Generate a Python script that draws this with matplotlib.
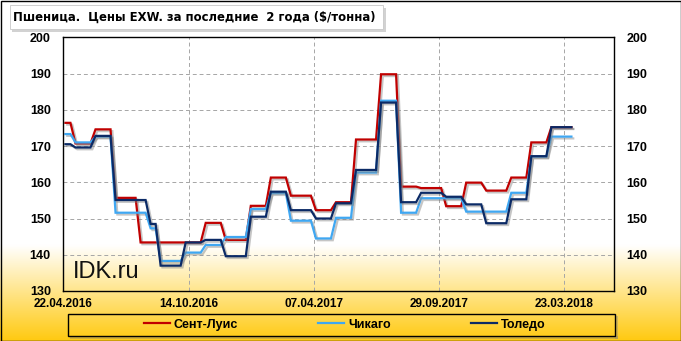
import datetime as dt
import numpy as np
import pandas as pd
import matplotlib
matplotlib.use("Agg")
import matplotlib.pyplot as plt
import matplotlib.dates as mdates
import matplotlib.patheffects as pe
from matplotlib.patches import Rectangle
from matplotlib.lines import Line2D

plt.rcParams['font.family'] = ['Liberation Sans', 'DejaVu Sans']

# ---------------- data ----------------
title = "Пшеница.  Цены EXW. за последние  2 года ($/тонна)"
series_names = ["Сент-Луис", "Чикаго", "Толедо"]
series_colors = ["#C00000", "#3FA7F2", "#0B2A66"]
start_date = "2016-04-25"
tick_dates = ["2016-04-22", "2016-10-14", "2017-04-07", "2017-09-29", "2018-03-23"]
tick_labels = ["22.04.2016", "14.10.2016", "07.04.2017", "29.09.2017", "23.03.2018"]
y_ticks = [130, 140, 150, 160, 170, 180, 190, 200]

st_louis = [
    176.4, 176.4, 170.7, 170.7, 170.7, 170.7, 174.6, 174.6, 174.6, 174.6,
    155.7, 155.7, 155.7, 155.7, 155.7, 143.4, 143.4, 143.4, 143.4, 143.4,
    143.4, 143.4, 143.4, 143.4, 143.4, 143.4, 143.4, 143.4, 148.8, 148.8,
    148.8, 148.8, 144.1, 144.1, 144.1, 144.1, 144.1, 153.5, 153.5, 153.5,
    153.5, 161.3, 161.3, 161.3, 161.3, 156.3, 156.3, 156.3, 156.3, 156.3,
    152.3, 152.3, 152.3, 152.3, 154.5, 154.5, 154.5, 154.5, 171.8, 171.8,
    171.8, 171.8, 171.8, 189.8, 189.8, 189.8, 189.8, 158.8, 158.8, 158.8,
    158.8, 158.4, 158.4, 158.4, 158.4, 158.4, 153.4, 153.4, 153.4, 153.4,
    159.9, 159.9, 159.9, 159.9, 157.7, 157.7, 157.7, 157.7, 157.7, 161.3,
    161.3, 161.3, 161.3, 171.0, 171.0, 171.0, 171.0, 175.2, 175.2, 175.2,
    175.2, 175.2]

chicago = [
    173.3, 173.3, 171.0, 171.0, 171.0, 171.0, 172.6, 172.6, 172.6, 172.6,
    151.6, 151.6, 151.6, 151.6, 151.6, 151.6, 151.6, 147.3, 147.3, 138.3,
    138.3, 138.3, 138.3, 138.3, 140.6, 140.6, 140.6, 140.6, 142.7, 142.7,
    142.7, 142.7, 144.9, 144.9, 144.9, 144.9, 144.9, 152.6, 152.6, 152.6,
    152.6, 157.0, 157.0, 157.0, 157.0, 149.4, 149.4, 149.4, 149.4, 149.4,
    144.5, 144.5, 144.5, 144.5, 150.2, 150.2, 150.2, 150.2, 162.7, 162.7,
    162.7, 162.7, 162.7, 182.5, 182.5, 182.5, 182.5, 151.6, 151.6, 151.6,
    151.6, 155.6, 155.6, 155.6, 155.6, 155.6, 155.6, 155.6, 155.6, 155.6,
    151.9, 151.9, 151.9, 151.9, 151.9, 151.9, 151.9, 151.9, 151.9, 157.1,
    157.1, 157.1, 157.1, 167.1, 167.1, 167.1, 167.1, 172.6, 172.6, 172.6,
    172.6, 172.6]

toledo = [
    170.5, 170.5, 169.6, 169.6, 169.6, 169.6, 172.8, 172.8, 172.8, 172.8,
    155.1, 155.1, 155.1, 155.1, 155.1, 155.1, 155.1, 148.5, 148.5, 137.0,
    137.0, 137.0, 137.0, 137.0, 143.4, 143.4, 143.4, 143.4, 144.1, 144.1,
    144.1, 144.1, 139.6, 139.6, 139.6, 139.6, 139.6, 150.5, 150.5, 150.5,
    150.5, 157.4, 157.4, 157.4, 157.4, 152.3, 152.3, 152.3, 152.3, 152.3,
    150.0, 150.0, 150.0, 150.0, 154.2, 154.2, 154.2, 154.2, 163.4, 163.4,
    163.4, 163.4, 163.4, 182.0, 182.0, 182.0, 182.0, 154.5, 154.5, 154.5,
    154.5, 157.1, 157.1, 157.1, 157.1, 157.1, 156.0, 156.0, 156.0, 156.0,
    153.9, 153.9, 153.9, 153.9, 148.7, 148.7, 148.7, 148.7, 148.7, 155.3,
    155.3, 155.3, 155.3, 167.2, 167.2, 167.2, 167.2, 175.2, 175.2, 175.2,
    175.2, 175.2]

dates = pd.date_range(start_date, periods=len(st_louis), freq="7D")

# ---------------- figure ----------------
W, H = 681, 341
fig = plt.figure(figsize=(W / 100, H / 100), dpi=100)

# background with yellow gradient (pixel coordinates)
bg = fig.add_axes([0, 0, 1, 1], zorder=0)
bg.set_xlim(0, W)
bg.set_ylim(H, 0)
bg.axis("off")
rows = np.arange(H) + 0.5
t = np.clip((rows - 245) / (H - 245), 0, 1) ** 1.0
white = np.array([1.0, 1.0, 1.0])
gold = np.array([1.0, 0.79, 0.06])
img = white[None, :] * (1 - t[:, None]) + gold[None, :] * t[:, None]
img = np.repeat(img[:, None, :], 2, axis=1)
bg.imshow(img, extent=(0, W, H, 0), aspect="auto", interpolation="bilinear")

# title box with shadow
bg.add_patch(Rectangle((12, 8), 373.5, 24, fc="#7F7F7F", ec="none", alpha=0.35))
bg.add_patch(Rectangle((9.5, 5), 373.5, 24, fc="white", ec="#C8C8C8", lw=0.6))
bg.text(12.7, 17.0, title, fontsize=8.4, fontweight="bold", va="center", ha="left",
        family=["DejaVu Sans"])

# legend box with shadow
bg.add_patch(Rectangle((70, 336.2), 547.5, 2.3, fc="#7F7F7F", ec="none", alpha=0.35))
bg.add_patch(Rectangle((615.2, 316), 2.3, 22.5, fc="#7F7F7F", ec="none", alpha=0.35))
bg.add_patch(Rectangle((67.5, 313.5), 547.5, 22.5, fc="none", ec="black", lw=1.0))

# watermark
bg.text(73, 278.3, "IDK.ru", fontsize=17, va="baseline", ha="left", color="#111111")

# outer border
bg.add_patch(Rectangle((0.5, 0.5), W - 1, H - 1, fill=False, ec="black", lw=1.0))

# main axes
ax = fig.add_axes([63.3 / W, 1 - 291 / H, (614 - 63.3) / W, (291 - 37.3) / H], zorder=2)
ax.set_facecolor("none")

shadow = [pe.SimpleLineShadow(offset=(1.3, -1.3), shadow_color="#808080", alpha=0.45),
          pe.Normal()]
for vals, name, col in zip([st_louis, chicago, toledo], series_names, series_colors):
    ax.plot(dates, vals, color=col, lw=1.6, solid_joinstyle="miter",
            path_effects=shadow, label=name)

x0 = mdates.date2num(dt.datetime(2016, 4, 22))
ax.set_xlim(x0, x0 + 769.5)
ax.set_ylim(130, 200)
ax.set_xticks([mdates.date2num(pd.Timestamp(d)) for d in tick_dates])
ax.set_xticklabels(tick_labels)
ax.set_yticks(y_ticks)
ax.set_yticklabels([str(v) for v in y_ticks])
ax.tick_params(axis="x", length=0, pad=5, labelsize=8.5)
ax.tick_params(axis="y", length=0, pad=9, labelsize=9, labelleft=True, labelright=True)
for lab in ax.get_xticklabels() + ax.get_yticklabels():
    lab.set_fontweight("bold")
for tl in ax.yaxis.get_major_ticks():
    tl.label2.set_fontweight("bold")
ax.grid(True, color="#A6A6A6", linestyle=(0, (4, 3)), linewidth=0.7)
ax.set_axisbelow(True)
for s in ax.spines.values():
    s.set_color("black")
    s.set_linewidth(1.0)

handles = [Line2D([], [], color=c, lw=1.6) for c in series_colors]
fig.legend(handles, series_names, loc="center", bbox_to_anchor=(344.5 / W, 1 - 324.7 / H),
           ncol=3, frameon=False, handlelength=2.1, handletextpad=0.3, columnspacing=6.4,
           prop={"family": "Liberation Sans", "weight": "bold", "size": 9})

fig.savefig("out.png", dpi=100)
